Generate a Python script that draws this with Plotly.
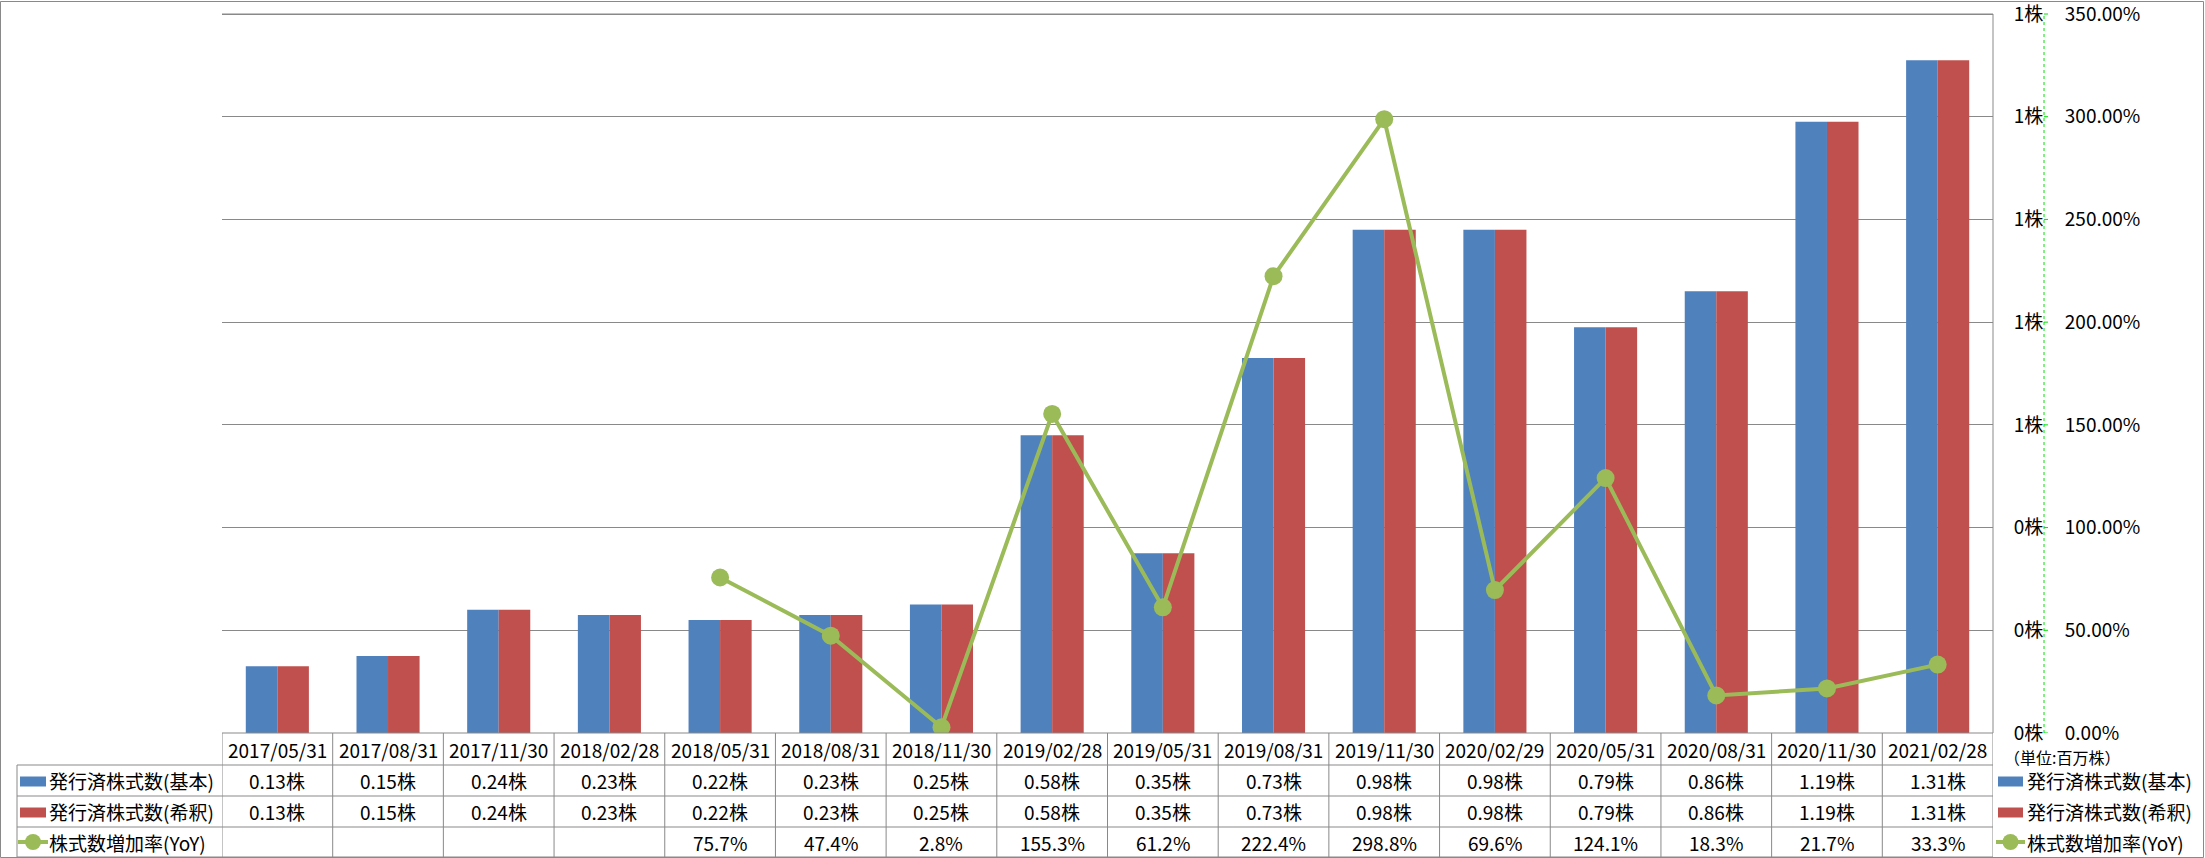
import plotly.graph_objects as go

# data
dates = ["2017/05/31", "2017/08/31", "2017/11/30", "2018/02/28", "2018/05/31", "2018/08/31",
         "2018/11/30", "2019/02/28", "2019/05/31", "2019/08/31", "2019/11/30", "2020/02/29",
         "2020/05/31", "2020/08/31", "2020/11/30", "2021/02/28"]
shares_basic = [0.13, 0.15, 0.24, 0.23, 0.22, 0.23, 0.25, 0.58, 0.35, 0.73, 0.98, 0.98, 0.79, 0.86, 1.19, 1.31]
shares_diluted = [0.13, 0.15, 0.24, 0.23, 0.22, 0.23, 0.25, 0.58, 0.35, 0.73, 0.98, 0.98, 0.79, 0.86, 1.19, 1.31]
yoy = [None, None, None, None, 75.7, 47.4, 2.8, 155.3, 61.2, 222.4, 298.8, 69.6, 124.1, 18.3, 21.7, 33.3]

left_ticks = [0, 0.2, 0.4, 0.6, 0.8, 1.0, 1.2, 1.4]
left_labels = ["0株", "0株", "0株", "1株", "1株", "1株", "1株", "1株"]
right_ticks = [0, 50, 100, 150, 200, 250, 300, 350]
right_labels = ["0.00%", "50.00%", "100.00%", "150.00%", "200.00%", "250.00%", "300.00%", "350.00%"]

names = ["発行済株式数(基本)", "発行済株式数(希釈)", "株式数増加率(YoY)"]
unit_label = "（単位:百万株）"

BLUE, RED, GREEN = "#4F81BD", "#C0504D", "#9BBB59"
LIME = "#00E000"
GRID = "#898989"
FONT = "Noto Sans CJK JP"

W, H = 2205, 858
def px(x):
    return x / W
def py(y):
    return 1 - y / H

row_y = [749, 780.5, 811.5, 842]   # centres of the table rows
row_edges = [733, 765, 796, 827, 857]

# plot area runs 14..733 px; stretch the domain 2px upward so the top tick is not clipped
TOP, BOT = 14, 733
pad = 2
y_stretch = (BOT - TOP + pad) / (BOT - TOP)

fig = go.Figure()
fig.add_trace(go.Bar(x=dates, y=shares_basic, name=names[0], marker=dict(color=BLUE, line=dict(width=0))))
fig.add_trace(go.Bar(x=dates, y=shares_diluted, name=names[1], marker=dict(color=RED, line=dict(width=0))))
fig.add_trace(go.Scatter(x=dates, y=yoy, name=names[2], yaxis="y2", mode="lines+markers",
                         line=dict(color=GREEN, width=4), marker=dict(color=GREEN, size=18),
                         connectgaps=False))

shapes = []
# outer frame
shapes.append(dict(type="rect", xref="paper", yref="paper", x0=px(0.5), x1=px(2203.5), y0=py(857.5), y1=py(1.5),
                   line=dict(color=GRID, width=1)))
# top gridline
shapes.append(dict(type="line", xref="x", yref="y", x0=-0.5, x1=len(dates) - 0.5, y0=left_ticks[-1], y1=left_ticks[-1],
                   line=dict(color=GRID, width=1), layer="below"))
# green dashed secondary axis line with its small ticks
shapes.append(dict(type="line", xref="paper", yref="paper", x0=px(2044), x1=px(2044), y0=py(BOT), y1=py(TOP),
                   line=dict(color=LIME, width=1, dash="3px,3px")))
for t in right_ticks:
    shapes.append(dict(type="line", xref="paper", yref="y2", x0=px(2044), x1=px(2048), y0=t, y1=t,
                       line=dict(color=LIME, width=1)))
# table grid
for i in range(len(dates) + 1):
    shapes.append(dict(type="line", xref="x", yref="paper", x0=i - 0.5, x1=i - 0.5, y0=py(733), y1=py(857),
                       line=dict(color=GRID, width=1)))
shapes.append(dict(type="line", xref="x", yref="paper", x0=-0.5, x1=len(dates) - 0.5, y0=py(733), y1=py(733),
                   line=dict(color=GRID, width=1)))
shapes.append(dict(type="line", xref="paper", yref="paper", x0=px(1993), x1=px(1993), y0=py(BOT), y1=py(TOP),
                   line=dict(color=GRID, width=1)))
for e in row_edges[1:]:
    shapes.append(dict(type="line", xref="paper", yref="paper", x0=px(17), x1=px(1993), y0=py(e), y1=py(e),
                       line=dict(color=GRID, width=1)))
shapes.append(dict(type="line", xref="paper", yref="paper", x0=px(17), x1=px(17), y0=py(765), y1=py(857),
                   line=dict(color=GRID, width=1)))

annotations = []
def text(x, y, s, xref="paper", anchor="center", size=19):
    annotations.append(dict(x=x, y=y, xref=xref, yref="paper", text=s, showarrow=False,
                            xanchor=anchor, yanchor="middle", font=dict(family=FONT, size=size, color="#000000")))

for i, d in enumerate(dates):
    text(d, py(row_y[0]), d, xref="x")
    text(d, py(row_y[1]), f"{shares_basic[i]:.2f}株", xref="x")
    text(d, py(row_y[2]), f"{shares_diluted[i]:.2f}株", xref="x")
    if yoy[i] is not None:
        text(d, py(row_y[3]), f"{yoy[i]:.1f}%", xref="x")

# legend keys, in the table and on the right
def legend_keys(kx0, kx1, tx):
    for j, c in enumerate([BLUE, RED]):
        yc = row_y[j + 1] + 1
        shapes.append(dict(type="rect", xref="paper", yref="paper", x0=px(kx0), x1=px(kx1),
                           y0=py(yc + 5), y1=py(yc - 5), fillcolor=c, line=dict(width=0)))
        text(px(tx), py(row_y[j + 1]), names[j], anchor="left")
    yc = row_y[3]
    shapes.append(dict(type="line", xref="paper", yref="paper", x0=px(kx0 - 2), x1=px(kx1 + 2),
                       y0=py(yc), y1=py(yc), line=dict(color=GREEN, width=4)))
    cx = (kx0 + kx1) / 2
    shapes.append(dict(type="circle", xref="paper", yref="paper", x0=px(cx - 8), x1=px(cx + 8),
                       y0=py(yc + 8), y1=py(yc - 8), fillcolor=GREEN, line=dict(width=0)))
    text(px(tx), py(row_y[3]), names[2], anchor="left")

legend_keys(20, 46, 47)
legend_keys(1998, 2023, 2025)
text(px(2002), py(757), unit_label, anchor="left", size=16)

fig.update_layout(
    width=W, height=H, autosize=False, margin=dict(l=0, r=0, t=0, b=0, pad=0, autoexpand=False),
    paper_bgcolor="white", plot_bgcolor="white", showlegend=False,
    barmode="group", bargap=0.43, bargroupgap=0,
    font=dict(family=FONT, size=19, color="#000000"),
    xaxis=dict(type="category", domain=[px(222), px(1993)], range=[-0.5, len(dates) - 0.5],
               showticklabels=False, showgrid=False, showline=False, ticks="", zeroline=False),
    yaxis=dict(domain=[py(BOT), py(TOP - pad)], range=[0, left_ticks[-1] * y_stretch],
               tickvals=left_ticks, ticktext=left_labels, ticklabeloverflow="allow",
               side="right", showline=False, gridcolor=GRID, gridwidth=1,
               ticks="outside", ticklen=16, tickcolor="rgba(0,0,0,0)", zeroline=False),
    yaxis2=dict(overlaying="y", anchor="free", position=px(2044), side="right",
                range=[0, right_ticks[-1] * y_stretch], ticklabeloverflow="allow",
                tickvals=right_ticks, ticktext=right_labels, showgrid=False, showline=False,
                zeroline=False, ticks="outside", ticklen=16, tickcolor="rgba(0,0,0,0)"),
    shapes=shapes, annotations=annotations,
)

# the page is shot edge to edge, so drop the browser's default body margin
fig.write_html("out.html", config={"displayModeBar": False, "responsive": False},
               post_script="document.body.style.margin='0px';")
